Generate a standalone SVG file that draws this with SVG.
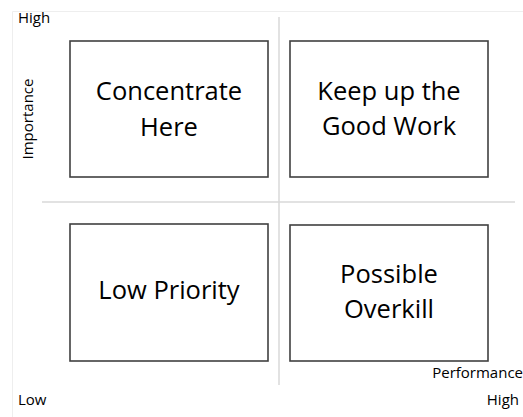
<svg xmlns="http://www.w3.org/2000/svg" width="523" height="417" viewBox="0 0 523 417">
  <style>
    .frame { stroke: #eeeeee; stroke-width: 1; fill: none; }
    .axis { stroke: #d9d9d9; stroke-width: 1.5; fill: none; }
    .box { fill: #ffffff; stroke: #404040; stroke-width: 1.6; }
    .big { font-family: "Open Sans", "Liberation Sans", sans-serif; font-size: 25.5px; fill: #000000; text-anchor: middle; }
    .small { font-family: "Open Sans", "Liberation Sans", sans-serif; font-size: 15px; fill: #000000; }
  </style>
  <rect width="523" height="417" fill="#ffffff"/>
  <g id="frame">
    <polyline class="frame" points="12.5,417 12.5,11.5 523,11.5"/>
  </g>
  <g id="axes">
    <line class="axis" x1="42" y1="202" x2="515" y2="202"/>
    <line class="axis" x1="279" y1="17" x2="279" y2="385"/>
  </g>
  <g id="labels">
    <text class="small" x="18" y="23">High</text>
    <text class="small" x="18" y="405">Low</text>
    <text class="small" x="523" y="378" text-anchor="end">Performance</text>
    <text class="small" x="519" y="405" text-anchor="end">High</text>
    <text class="small" transform="translate(33,119) rotate(-90)" text-anchor="middle">Importance</text>
  </g>
  <g id="concentrate-here">
    <rect class="box" x="70" y="41" width="198" height="136"/>
    <text class="big" x="169" y="100">Concentrate</text>
    <text class="big" x="169" y="136">Here</text>
  </g>
  <g id="keep-up-the-good-work">
    <rect class="box" x="290" y="41" width="198" height="136"/>
    <text class="big" x="389" y="100">Keep up the</text>
    <text class="big" x="389" y="135">Good Work</text>
  </g>
  <g id="low-priority">
    <rect class="box" x="70" y="224" width="198" height="137"/>
    <text class="big" x="169" y="299">Low Priority</text>
  </g>
  <g id="possible-overkill">
    <rect class="box" x="290" y="225" width="198" height="136"/>
    <text class="big" x="389" y="283">Possible</text>
    <text class="big" x="389" y="318">Overkill</text>
  </g>
</svg>
